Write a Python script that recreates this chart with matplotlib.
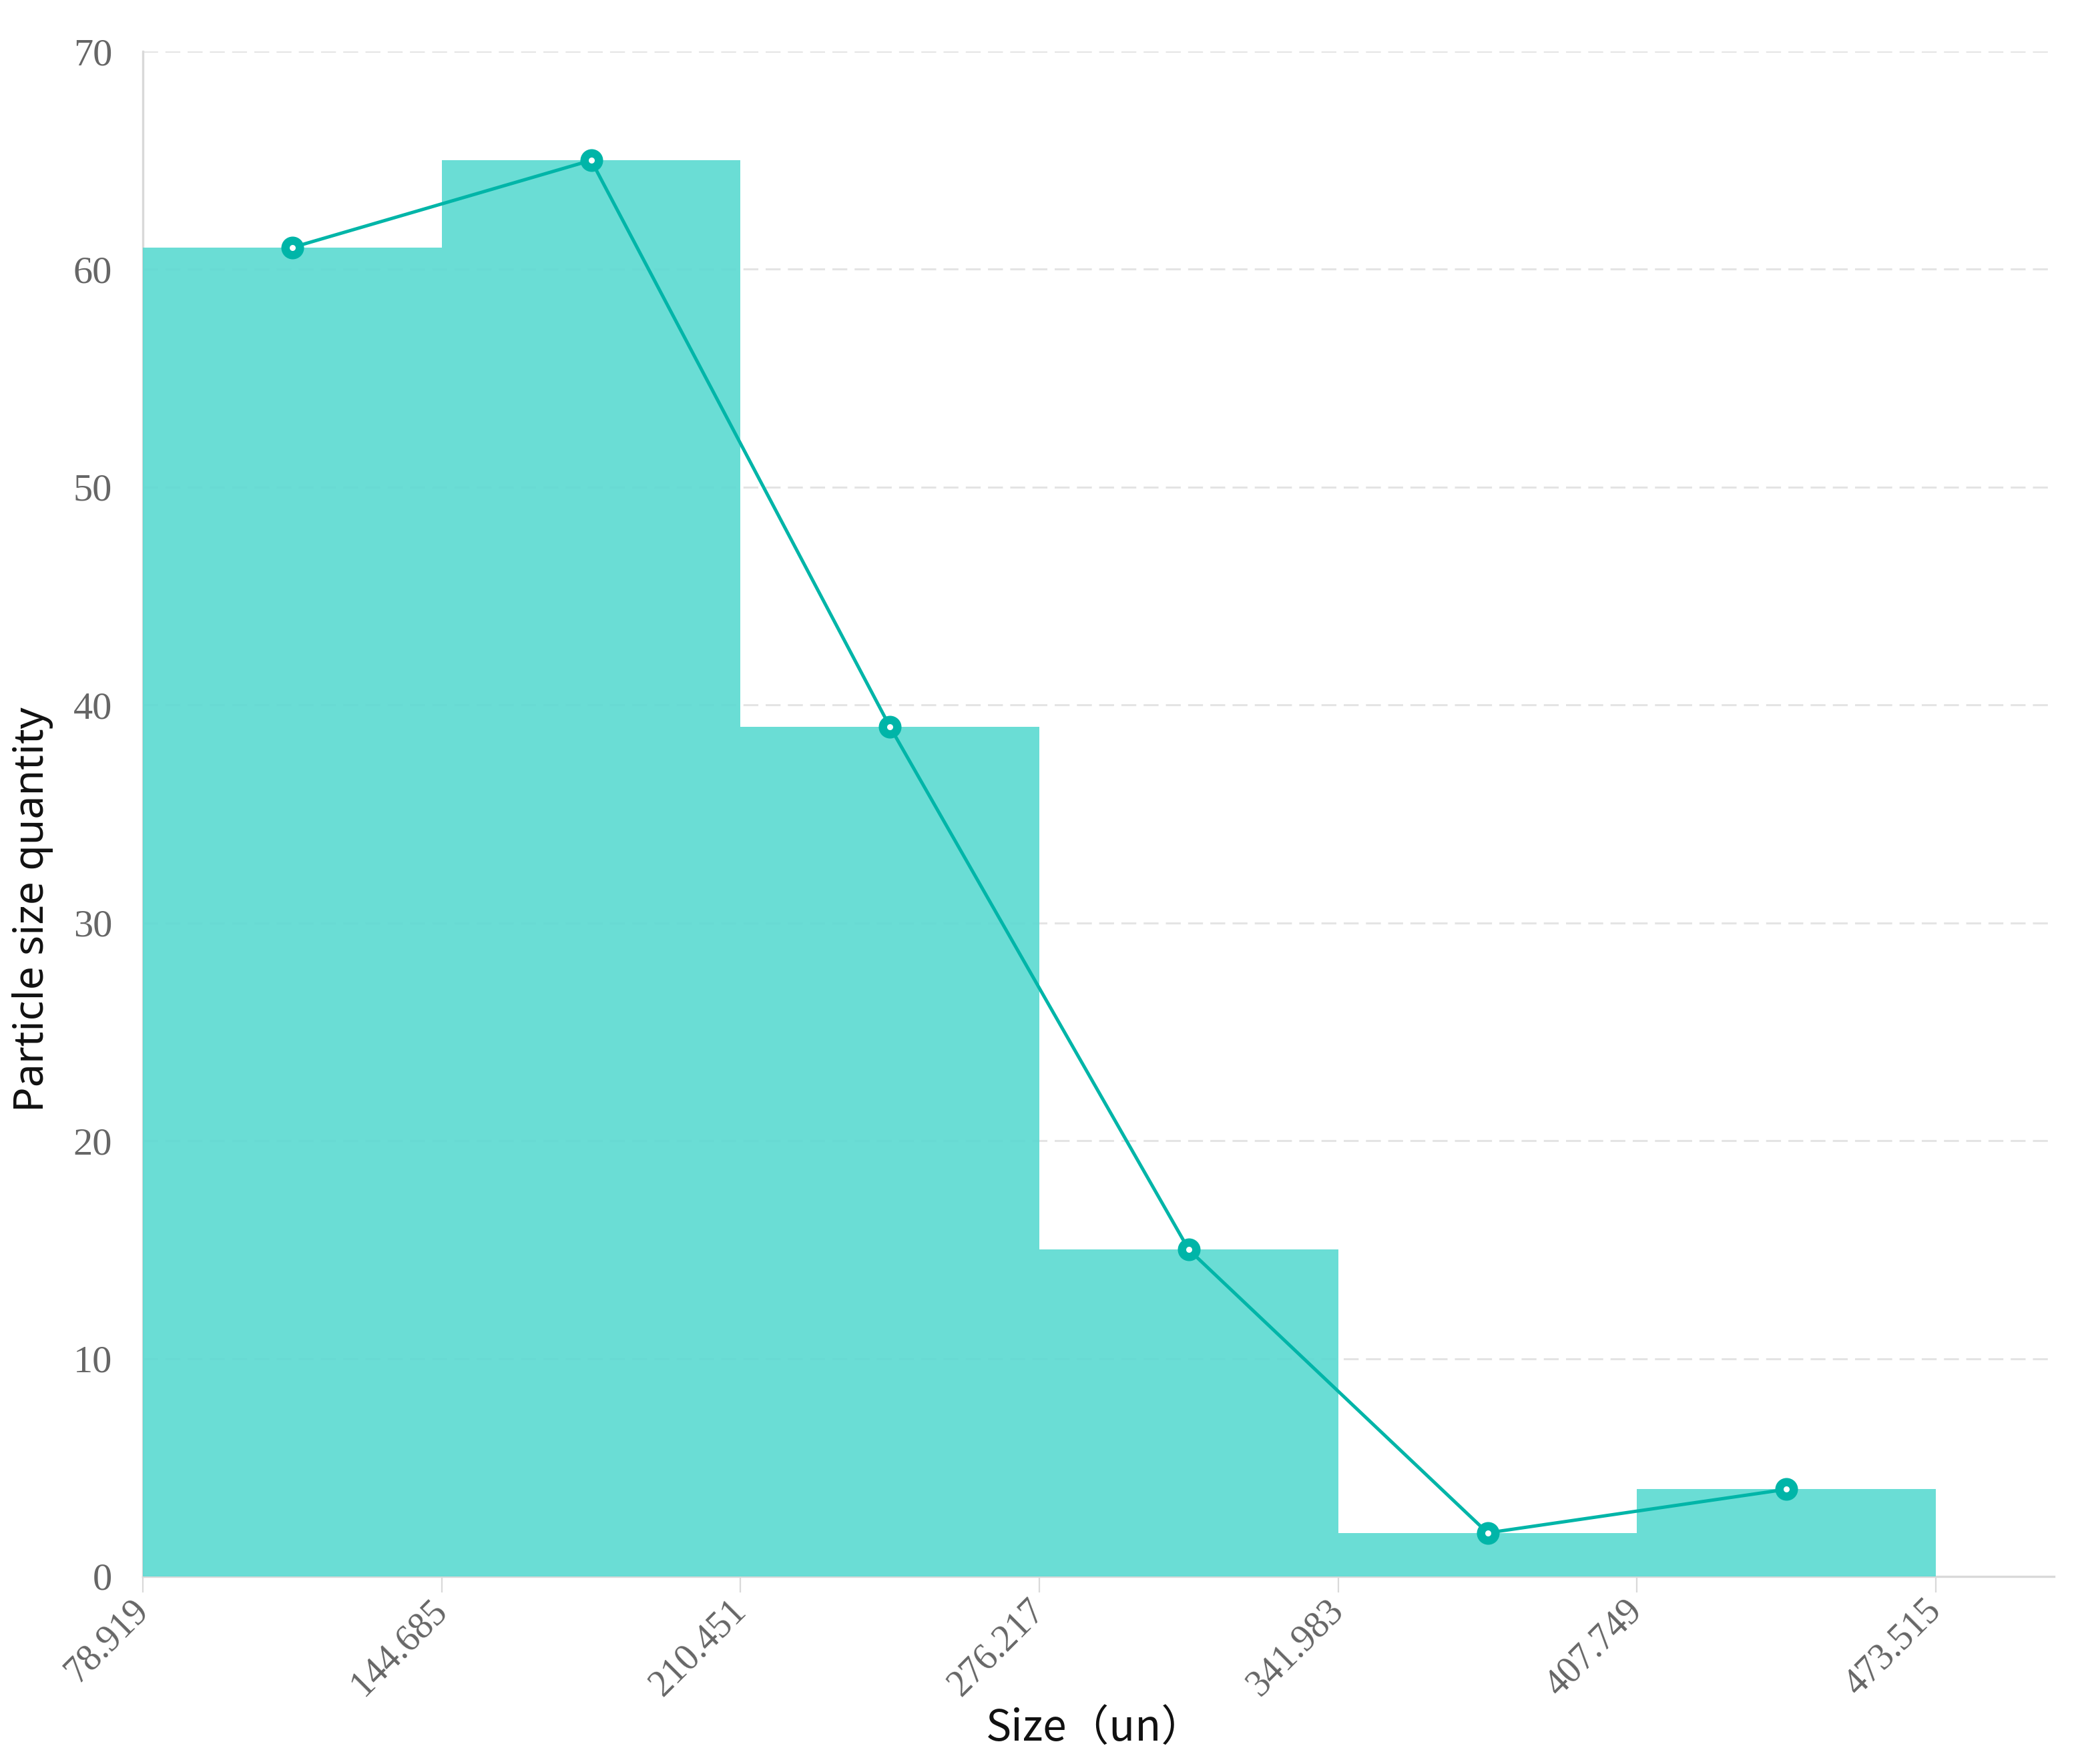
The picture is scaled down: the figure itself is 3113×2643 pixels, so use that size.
import matplotlib
matplotlib.use("Agg")
import matplotlib.pyplot as plt
import numpy as np

# ---- data ----
bin_edges = [78.919, 144.685, 210.451, 276.217, 341.983, 407.749, 473.515]
counts = [61, 65, 39, 15, 2, 4]
tick_labels = ["78.919", "144.685", "210.451", "276.217", "341.983", "407.749", "473.515"]
y_ticks = [0, 10, 20, 30, 40, 50, 60, 70]

W, H = 3113, 2643
DPI = 100
fig = plt.figure(figsize=(W / DPI, H / DPI), dpi=DPI)
AX_L, AX_R, AX_T, AX_B = 214, 3077, 77, 2362
ax = fig.add_axes([AX_L / W, 1 - AX_B / H, (AX_R - AX_L) / W, (AX_B - AX_T) / H])
AW, AH = AX_R - AX_L, AX_B - AX_T

edges = np.array(bin_edges)
widths = np.diff(edges)
centers = edges[:-1] + widths / 2

bar_color = "#5DDAD2"
line_color = "#00B5A8"
grid_color = "#E4E4E4"
axis_color = "#D9D9D9"

# gridlines
for yv in y_ticks[1:]:
    ax.axhline(yv, color=grid_color, lw=2.2, dashes=(7.3, 3.6), zorder=1)

ax.bar(edges[:-1], counts, width=widths, align="edge", color=bar_color,
       alpha=0.92, linewidth=0, zorder=3)
ax.plot(centers, counts, color=line_color, lw=3.6, zorder=4,
        marker="o", markersize=15.5, markerfacecolor="white",
        markeredgecolor=line_color, markeredgewidth=9)

ax.set_xlim(78.919, 499.5)
ax.set_ylim(0, 70)

for s in ["top", "right"]:
    ax.spines[s].set_visible(False)
for s in ["left", "bottom"]:
    ax.spines[s].set_color(axis_color)
    ax.spines[s].set_linewidth(2.4)
    ax.spines[s].set_zorder(2)
ax.spines["left"].set_bounds(0, 70)

ax.set_xticks(bin_edges)
ax.set_xticklabels(tick_labels, rotation=45, ha="right", va="center",
                   rotation_mode="anchor", family="Liberation Serif",
                   fontsize=40, color="#666666")
ax.set_yticks(y_ticks)
ax.set_yticklabels([str(v) for v in y_ticks], family="Liberation Serif",
                   fontsize=42, color="#666666")
ax.tick_params(axis="x", length=17, width=1.6, color=axis_color, pad=14)
ax.tick_params(axis="y", length=0, pad=33)

ax.set_xlabel("Size（un）", family=["Noto Sans CJK SC", "DejaVu Sans"],
              fontsize=46, color="#111111")
ax.xaxis.set_label_coords((1640 - AX_L) / AW, -(2556 - AX_B) / AH)
ax.set_ylabel("Particle size quantity", family=["Noto Sans", "DejaVu Sans"],
              fontsize=45, color="#111111")
ax.yaxis.set_label_coords(-(AX_L - 80) / AW, 0.5 - 143 / AH)

fig.savefig("out.png", dpi=DPI, facecolor="white")
